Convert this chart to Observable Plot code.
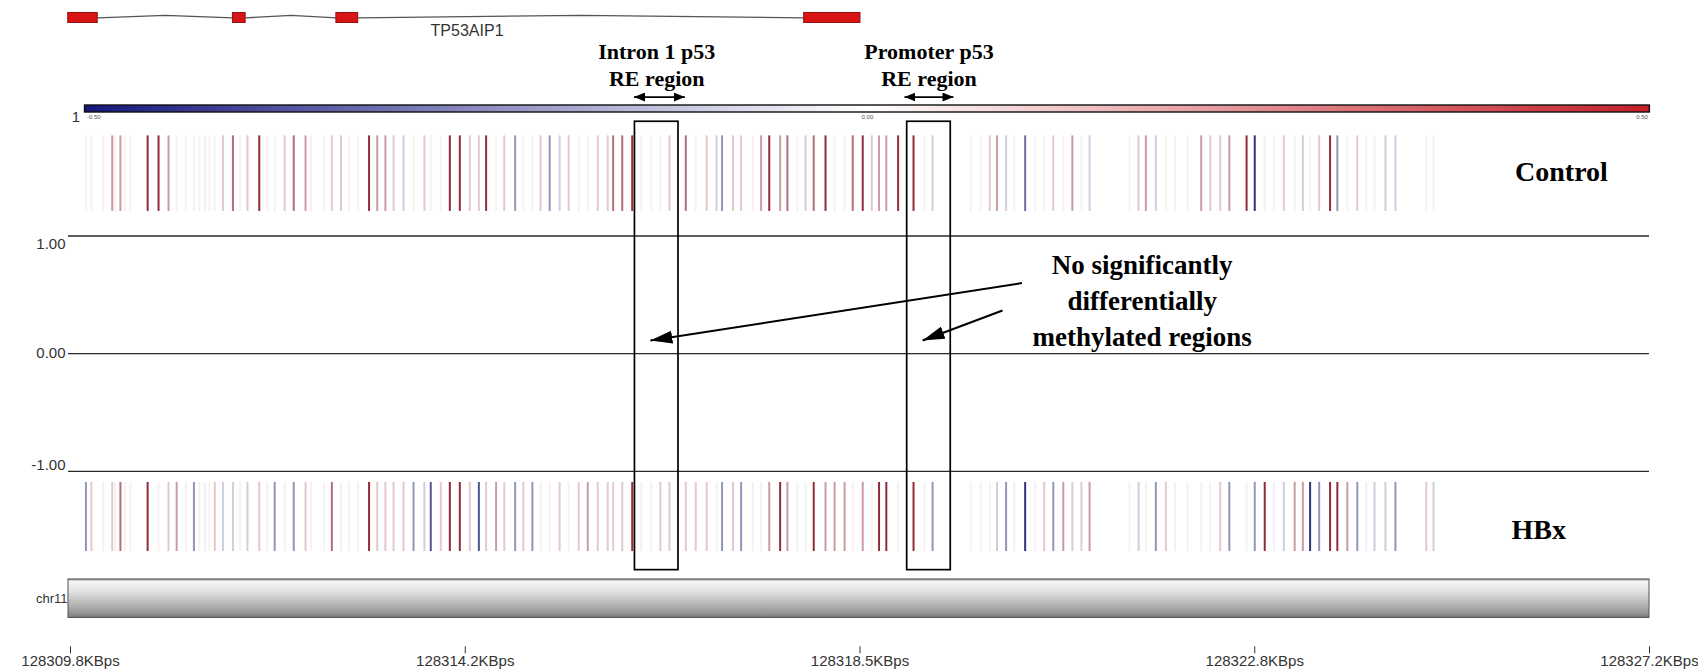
<!DOCTYPE html>
<html><head><meta charset="utf-8">
<script src="https://cdn.jsdelivr.net/npm/d3@7"></script>
<script src="https://cdn.jsdelivr.net/npm/@observablehq/plot@0.6"></script>
<style>
body{margin:0;background:#fff;}
#wrap{position:relative;width:1698px;height:671px;overflow:hidden;background:#fff;}
#wrap svg{position:absolute;left:0;}
</style></head><body><div id="wrap"></div>
<script>
// CpG site positions (KB) and methylation values
const sitePositions = [
128309.97,128310.03,128310.16,128310.26,128310.29,128310.35,128310.40,128310.46,128310.65,128310.77,
128310.88,128310.97,128311.07,128311.16,128311.22,128311.28,128311.33,128311.39,128311.48,128311.59,
128311.67,128311.75,128311.88,128311.97,128312.05,128312.16,128312.26,128312.39,128312.45,128312.59,
128312.68,128312.78,128312.87,128312.97,128313.09,128313.18,128313.27,128313.36,128313.47,128313.58,
128313.70,128313.77,128313.88,128313.98,128314.09,128314.20,128314.30,128314.38,128314.49,128314.58,
128314.70,128314.79,128314.89,128314.98,128315.08,128315.19,128315.29,128315.40,128315.50,128315.61,
128315.72,128315.78,128315.88,128315.99,128316.09,128316.20,128316.30,128316.40,128316.58,128316.69,
128316.81,128316.92,128316.98,128317.10,128317.19,128317.32,128317.41,128317.50,128317.62,128317.70,
128317.81,128317.90,128317.99,128318.12,128318.22,128318.33,128318.42,128318.53,128318.63,128318.71,
128318.79,128318.92,128319.09,128319.21,128319.30,128319.72,128319.83,128319.93,128320.01,128320.11,
128320.20,128320.32,128320.43,128320.53,128320.63,128320.74,128320.84,128320.94,128321.03,128321.47,
128321.57,128321.65,128321.76,128321.87,128321.97,128322.11,128322.26,128322.36,128322.47,128322.57,
128322.76,128322.85,128322.96,128323.06,128323.17,128323.29,128323.38,128323.46,128323.56,128323.68,
128323.76,128323.87,128323.98,128324.08,128324.17,128324.29,128324.40,128324.74,128324.82];
const controlValues = [
0.03,0.03,0.03,0.22,0.03,0.22,0.03,0.03,0.47,0.47,
0.22,0.03,0.03,0.03,0.03,-0.03,0.03,0.03,0.12,0.32,
0.03,0.12,0.47,0.03,0.03,0.12,0.32,0.22,0.03,0.03,
0.12,0.12,0.03,0.03,0.47,0.22,0.22,0.12,-0.1,0.03,
0.12,0.03,0.03,0.47,0.47,0.12,0.12,0.47,0.03,0.12,
-0.22,0.03,0.03,0.12,-0.22,-0.1,0.12,0.03,0.03,0.12,
0.12,0.32,0.32,0.47,0.03,0.03,0.03,0.12,0.32,0.03,
0.12,-0.1,-0.22,0.12,0.12,0.03,0.22,0.47,0.22,0.32,
0.03,-0.1,0.32,0.47,0.03,0.03,0.32,0.47,0.12,0.22,
0.22,0.47,0.47,0.03,-0.1,0.03,0.03,0.12,0.22,-0.1,
0.03,-0.3,0.03,0.03,0.12,0.03,0.22,0.03,-0.1,0.03,
0.12,0.22,-0.1,0.03,0.03,0.03,0.22,0.12,0.12,0.22,
0.47,-0.42,-0.03,0.03,0.12,0.03,-0.1,0.03,0.12,0.47,
-0.22,0.03,0.12,0.03,0.03,-0.1,-0.1,0.03,-0.03];
const hbxValues = [
-0.22,0.12,0.03,0.12,0.03,0.32,0.03,0.03,0.47,0.03,
0.12,0.22,0.03,-0.22,0.03,-0.03,0.03,0.12,-0.1,-0.1,
0.03,-0.1,0.12,0.03,-0.22,0.03,-0.22,0.12,0.03,0.03,
0.32,-0.03,0.03,0.03,0.47,0.12,0.12,0.12,0.12,-0.22,
-0.1,-0.35,0.12,0.47,0.47,0.12,-0.35,0.12,0.22,0.12,
-0.22,0.12,-0.22,0.03,0.03,0.12,0.03,0.12,0.22,0.12,
0.12,0.12,0.12,0.47,-0.03,0.03,0.12,0.12,0.12,0.12,
0.12,0.03,-0.22,0.12,-0.22,0.03,0.03,0.22,0.47,0.22,
-0.03,0.03,0.47,0.22,0.22,0.22,0.03,0.22,0.03,0.47,
0.47,0.03,0.47,0.03,-0.22,0.03,0.03,0.03,-0.1,-0.22,
-0.03,-0.42,0.03,0.12,-0.22,0.22,0.12,0.12,0.22,0.03,
-0.1,0.03,-0.22,0.12,-0.03,0.03,0.03,0.03,0.12,-0.22,
0.03,-0.22,0.47,-0.03,-0.1,0.22,0.22,-0.42,-0.22,0.47,
0.47,0.22,-0.22,-0.03,-0.1,-0.1,-0.22,0.12,-0.1];

// gene model
const exonStarts = [128309.775, 128311.59, 128312.73, 128317.885];
const exonEnds   = [128310.10, 128311.73, 128312.97, 128318.505];
const geneName = "TP53AIP1";
const geneLabelPos = 128314.17;

// axes
const xTickValues = [128309.8, 128314.15, 128318.5, 128322.85, 128327.2];
const xTickLabels = ["128309.8KBps","128314.2KBps","128318.5KBps","128322.8KBps","128327.2KBps"];
const yTickValues = [1, 0, -1];
const legendTicks = [-0.5, 0, 0.5];
const legendTickLabels = ["-0.50", "0.00", "0.50"];

// p53 RE regions
const regionNames = [["Intron 1 p53", "RE region"], ["Promoter p53", "RE region"]];
const regionStarts = [128316.02, 128319.02];
const regionEnds = [128316.50, 128319.50];
const regionArrowStarts = [128316.01, 128318.99];
const regionArrowEnds = [128316.57, 128319.53];

// note
const noteLines = ["No significantly", "differentially", "methylated regions"];
const noteX = 128321.61;
const noteArrowFrom = [[128320.285, 0.60], [128320.07, 0.367]];
const noteArrowTo = [[128316.19, 0.112], [128319.19, 0.112]];

const trackNames = ["Control", "HBx"];

// ---- layout (vertical positions in plot y units) ----
const L = {exonTop: 2.894, exonBot: 2.809, exonMid: 2.853, hat: 2.874, gene: 2.70,
  ann: [2.567, 2.333], dArrow: 2.18, boxTop: 1.97, boxBot: -1.839,
  ctrlTop: 1.85, ctrlBot: 1.208, ctrlLabel: 1.543,
  hbxTop: -1.094, hbxBot: -1.681, hbxLabel: -1.50,
  chrTop: -1.918, chrBot: -2.245, tickTop: -2.49, tickBot: -2.55, tickLabel: -2.612,
  noteY: [0.749, 0.443, 0.137]};
const frameL = 128309.778, frameR = 128327.2;
const labelX = [128326.23, 128325.98];

const sites = sitePositions.map((p, i) => ({pos: p, control: controlValues[i], hbx: hbxValues[i]}));
const exons = exonStarts.map((s, i) => ({s, e: exonEnds[i]}));
const introns = [];
for (let i = 0; i < exonStarts.length - 1; i++) {
  const a = exonEnds[i], b = exonStarts[i + 1];
  introns.push({x: a, y: L.exonMid, k: i}, {x: (a + b) / 2, y: L.hat, k: i}, {x: b, y: L.exonMid, k: i});
}
const regions = regionNames.map((n, i) => ({n, s: regionStarts[i], e: regionEnds[i], as: regionArrowStarts[i], ae: regionArrowEnds[i], c: (regionStarts[i] + regionEnds[i]) / 2}));
const noteArrows = noteArrowFrom.map((f, i) => ({x1: f[0], y1: f[1], x2: noteArrowTo[i][0], y2: noteArrowTo[i][1]}));

const sans = "Liberation Sans, Arial, sans-serif";
const serif = "Liberation Serif, Times New Roman, serif";
const lineInterp = d3.piecewise(d3.interpolateRgb, ["#0b0b5e", "#ffffff", "#8c1c2c"]);
const barInterp = d3.piecewise(d3.interpolateRgb, ["#16167e", "#ffffff", "#c41f28"]);

const main = Plot.plot({
  width: 1698, height: 671, marginLeft: 70, marginRight: 49, marginTop: 0, marginBottom: 0,
  style: {background: "transparent", overflow: "visible"},
  x: {domain: [128309.8, 128327.2], axis: null},
  y: {domain: [-2.7, 3], axis: null},
  color: {type: "linear", domain: [-0.5, 0.5], interpolate: lineInterp, clamp: true},
  marks: [
    // gene model
    Plot.line(introns, {x: "x", y: "y", z: "k", stroke: "#555", strokeWidth: 1.3}),
    Plot.rect(exons, {x1: "s", x2: "e", y1: L.exonBot, y2: L.exonTop, fill: "#d91414", stroke: "#8e1010", strokeWidth: 1}),
    Plot.text([geneName], {x: geneLabelPos, y: L.gene, text: d => d, fontFamily: sans, fontSize: 16, fill: "#333", lineAnchor: "bottom"}),
    // region annotations
    Plot.text(regions, {x: "c", y: L.ann[0], text: d => d.n[0], fontFamily: serif, fontWeight: "bold", fontSize: 22, lineAnchor: "middle"}),
    Plot.text(regions, {x: "c", y: L.ann[1], text: d => d.n[1], fontFamily: serif, fontWeight: "bold", fontSize: 22, lineAnchor: "middle"}),
    Plot.link(regions, {x1: "as", x2: "ae", y1: L.dArrow, y2: L.dArrow, stroke: "#000", strokeWidth: 1.8, markerStart: "arrow", markerEnd: "arrow"}),
    // methylation tracks
    Plot.ruleX(sites, {x: "pos", y1: L.ctrlBot, y2: L.ctrlTop, stroke: "control", strokeWidth: 2}),
    Plot.ruleX(sites, {x: "pos", y1: L.hbxBot, y2: L.hbxTop, stroke: "hbx", strokeWidth: 2}),
    Plot.text([trackNames[0]], {x: labelX[0], y: L.ctrlLabel, text: d => d, fontFamily: serif, fontWeight: "bold", fontSize: 28, lineAnchor: "middle"}),
    Plot.text([trackNames[1]], {x: labelX[1], y: L.hbxLabel, text: d => d, fontFamily: serif, fontWeight: "bold", fontSize: 28, lineAnchor: "middle"}),
    // difference track
    Plot.ruleY(yTickValues, {x1: frameL, x2: frameR, stroke: "#2a2a2a", strokeWidth: 1.4}),
    Plot.text([yTickValues[0]], {x: frameL, y: d => d, text: d => d.toFixed(2), textAnchor: "end", dx: -3, lineAnchor: "top", dy: 2, fontFamily: sans, fontSize: 15, fill: "#333"}),
    Plot.text([yTickValues[1]], {x: frameL, y: d => d, text: d => d.toFixed(2), textAnchor: "end", dx: -3, lineAnchor: "middle", fontFamily: sans, fontSize: 15, fill: "#333"}),
    Plot.text([yTickValues[2]], {x: frameL, y: d => d, text: d => d.toFixed(2), textAnchor: "end", dx: -3, lineAnchor: "bottom", dy: -1, fontFamily: sans, fontSize: 15, fill: "#333"}),
    // region boxes
    Plot.rect(regions, {x1: "s", x2: "e", y1: L.boxBot, y2: L.boxTop, fill: "none", stroke: "#000", strokeWidth: 1.7}),
    // note
    Plot.text(noteLines, {x: noteX, y: (d, i) => L.noteY[i], text: d => d, fontFamily: serif, fontWeight: "bold", fontSize: 27, lineAnchor: "middle"}),
    Plot.link(noteArrows, {x1: "x1", y1: "y1", x2: "x2", y2: "y2", stroke: "#000", strokeWidth: 2, markerEnd: "arrow"}),
    // chromosome bar
    Plot.rect([0], {x1: frameL, x2: frameR, y1: L.chrBot, y2: L.chrTop, fill: "url(#chrGrad)", stroke: "#555", strokeWidth: 1}),
    Plot.text(["chr11"], {x: frameL, y: (L.chrTop + L.chrBot) / 2, text: d => d, textAnchor: "end", dx: -1, lineAnchor: "middle", fontFamily: sans, fontSize: 13, fill: "#333"}),
    // bottom axis
    Plot.ruleX(xTickValues, {x: d => d, y1: L.tickBot, y2: L.tickTop, stroke: "#333", strokeWidth: 1}),
    Plot.text(xTickValues, {x: d => d, y: L.tickLabel, text: (d, i) => xTickLabels[i], lineAnchor: "middle", fontFamily: sans, fontSize: 15, fill: "#333"})
  ]
});
main.style.top = "0px";

const step = 0.004;
const ramp = d3.range(-0.5, 0.5 - step / 2, step);
const cbar = Plot.plot({
  width: 1698, height: 24, marginLeft: 84.5, marginRight: 48.6, marginTop: 2, marginBottom: 15,
  style: {background: "transparent", overflow: "visible"},
  x: {domain: [-0.5, 0.5], axis: null},
  y: {domain: [0, 1], axis: null},
  color: {type: "linear", domain: [-0.5, 0.5], interpolate: barInterp},
  marks: [
    Plot.rect(ramp, {x1: d => d, x2: d => d + step, y1: 0, y2: 1, fill: d => d + step / 2, insetLeft: -0.5, insetRight: -0.5}),
    Plot.rect([0], {x1: -0.5, x2: 0.5, y1: 0, y2: 1, fill: "none", stroke: "#111", strokeWidth: 1.4}),
    Plot.text(["1"], {x: -0.5, y: 0, text: d => d, textAnchor: "end", dx: -5, dy: 9, lineAnchor: "bottom", fontFamily: sans, fontSize: 15, fill: "#333"}),
    Plot.text([legendTicks[0]], {x: d => d, y: 0, text: () => legendTickLabels[0], textAnchor: "start", dx: 2, dy: 2, lineAnchor: "top", fontFamily: sans, fontSize: 6, fill: "#555"}),
    Plot.text([legendTicks[1]], {x: d => d, y: 0, text: () => legendTickLabels[1], textAnchor: "middle", dy: 2, lineAnchor: "top", fontFamily: sans, fontSize: 6, fill: "#555"}),
    Plot.text([legendTicks[2]], {x: d => d, y: 0, text: () => legendTickLabels[2], textAnchor: "end", dx: -2, dy: 2, lineAnchor: "top", fontFamily: sans, fontSize: 6, fill: "#555"})
  ]
});
cbar.style.top = "103px";

const wrap = document.getElementById("wrap");
wrap.appendChild(main);
wrap.appendChild(cbar);

// defs: chromosome gradient and filled arrowheads
const svg = d3.select(main);
const defs = svg.insert("defs", ":first-child");
const g = defs.append("linearGradient").attr("id", "chrGrad").attr("x1", 0).attr("y1", 0).attr("x2", 0).attr("y2", 1);
[[0, "#8a8a8a"], [0.06, "#f6f6f6"], [0.3, "#e4e4e4"], [0.7, "#b0b0b0"], [0.93, "#8e8e8e"], [1, "#6e6e6e"]]
  .forEach(([o, c]) => g.append("stop").attr("offset", o).attr("stop-color", c));
function marker(id, len, wid) {
  defs.append("marker").attr("id", id).attr("viewBox", `0 0 ${len} ${wid}`)
    .attr("refX", len).attr("refY", wid / 2).attr("markerWidth", len).attr("markerHeight", wid)
    .attr("markerUnits", "userSpaceOnUse").attr("orient", "auto-start-reverse")
    .append("path").attr("d", `M0,0L${len},${wid / 2}L0,${wid}Z`).attr("fill", "#000");
}
marker("headBig", 22, 13);
marker("headSmall", 11, 9);
// replace Plot's open arrowheads by filled ones
svg.selectAll("[marker-end]").each(function () {
  const el = d3.select(this);
  if (el.attr("marker-start")) el.attr("marker-start", "url(#headSmall)").attr("marker-end", "url(#headSmall)");
  else el.attr("marker-end", "url(#headBig)");
});
</script>
</body></html>
